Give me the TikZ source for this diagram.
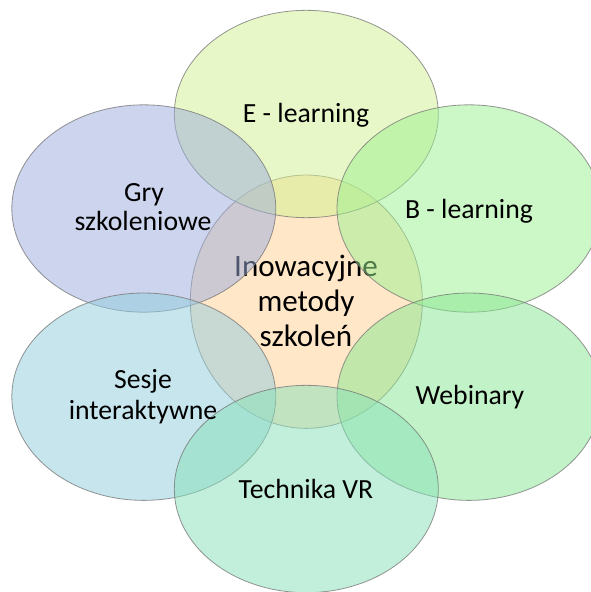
\documentclass[tikz,border=0pt]{standalone}
\usepackage{fontspec}
\setmainfont{Carlito}
\usetikzlibrary{shapes.geometric}
\definecolor{cE}{RGB}{211,241,145}
\definecolor{cG}{RGB}{155,173,221}
\definecolor{cB}{RGB}{155,241,145}
\definecolor{cS}{RGB}{145,205,221}
\definecolor{cW}{RGB}{135,231,145}
\definecolor{cV}{RGB}{135,225,185}
\definecolor{cC}{RGB}{255,209,145}
\begin{document}
\begin{tikzpicture}[x=0.75pt,y=-0.75pt,
  blob/.style={ellipse, draw=black!55, line width=0.6pt, fill opacity=0.5, draw opacity=0.75,
    inner sep=0pt, minimum width=198pt, minimum height=155.5pt},
  core/.style={ellipse, draw=black!55, line width=0.6pt, fill=cC, fill opacity=0.5, draw opacity=0.75,
    inner sep=0pt, minimum width=174pt, minimum height=190pt},
  lbl/.style={font=\fontsize{20.8}{24}\selectfont, anchor=base, inner sep=0pt, text=black},
  clbl/.style={font=\fontsize{23.3}{27}\selectfont, anchor=base, inner sep=0pt, text=black}]
\clip (0,0) rectangle (591,592);
\fill[white] (0,0) rectangle (591,592);
% centre
\node[core] (centre) at (306.3,301.7) {};
\node[clbl] (c1) at (306,276.7) {Inowacyjne};
\node[clbl] (c2) at (306,311) {metody};
\node[clbl] (c3) at (306,346.7) {szkoleń};
% outer ellipses
\node[blob, fill=cE] (elearn) at (306.3,114) {};
\node[blob, fill=cG] (gry) at (143.8,208.5) {};
\node[blob, fill=cB] (blearn) at (469,208.5) {};
\node[blob, fill=cS] (sesje) at (143.8,396.7) {};
\node[blob, fill=cW] (webin) at (469,396.7) {};
\node[blob, fill=cV] (vr) at (306.3,489) {};
% labels
\node[lbl] (tE) at (306,122.7) {E - learning};
\node[lbl] (tG1) at (144,201) {Gry};
\node[lbl] (tG2) at (143,230.7) {szkoleniowe};
\node[lbl] (tB) at (469,218.3) {B - learning};
\node[lbl] (tS1) at (143,388.3) {Sesje};
\node[lbl] (tS2) at (143,419) {interaktywne};
\node[lbl] (tW) at (470,404.3) {Webinary};
\node[lbl] (tV) at (306,498.3) {Technika VR};
\end{tikzpicture}
\end{document}
